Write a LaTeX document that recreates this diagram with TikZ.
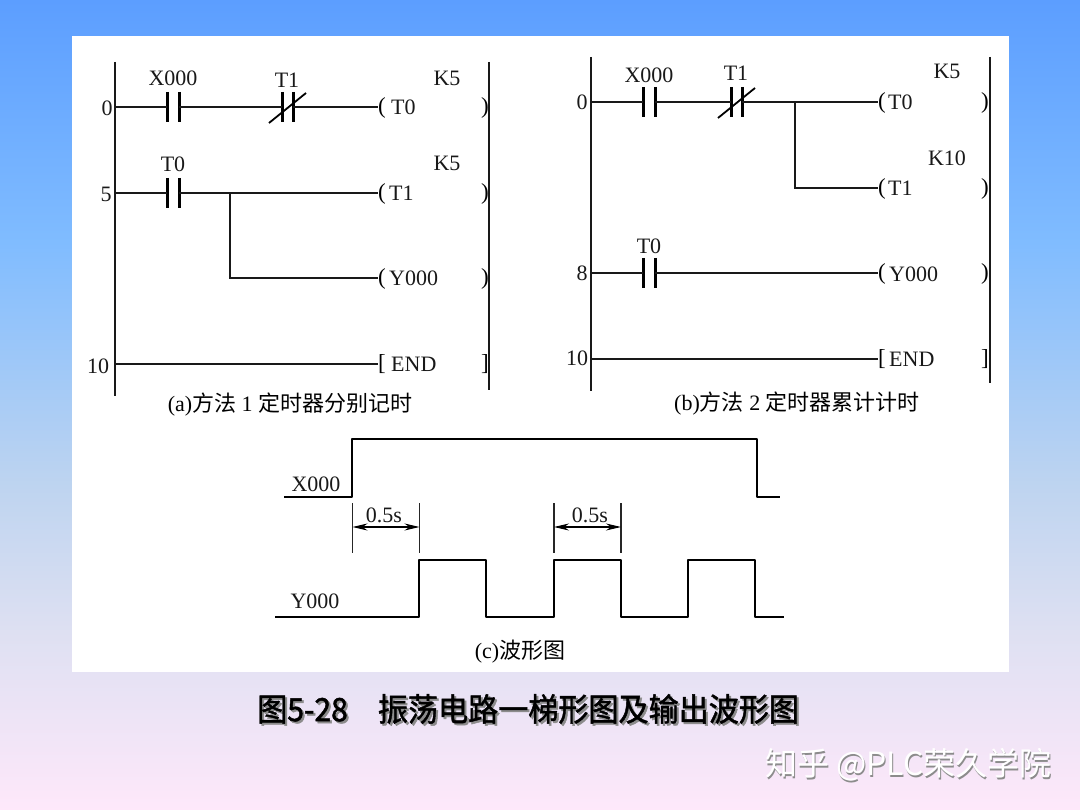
\documentclass[tikz,border=0pt]{standalone}
\usepackage{fontspec}
\usepackage{graphicx}
\setmainfont{Liberation Serif}
\newfontfamily\cjk{Noto Sans CJK SC}
\newfontfamily\cjktitle[FakeBold=1.5]{Noto Sans CJK SC}
\usetikzlibrary{arrows.meta,calc}
\definecolor{bgA}{RGB}{92,158,255}
\definecolor{bgB}{RGB}{128,188,255}
\definecolor{bgC}{RGB}{190,212,240}
\definecolor{bgD}{RGB}{222,224,242}
\definecolor{bgE}{RGB}{254,232,250}
\pgfdeclareverticalshading{bgshade}{100bp}{
 color(0bp)=(bgE); color(25bp)=(bgE); color(36bp)=(bgD); color(45bp)=(bgC);
 color(60bp)=(bgB); color(75bp)=(bgA); color(100bp)=(bgA)}
\tikzset{
 lad/.style={draw=black!90,line width=1.5pt},
 railx/.style={draw=black!90,line width=1.8pt},
 contactbar/.style={draw=black,line width=3pt},
 wave/.style={draw=black,line width=2.8pt,line join=round},
 dimline/.style={draw=black!85,line width=1.2pt},
 dimarrow/.style={draw=black,line width=1.2pt,{Stealth[length=15pt,width=7pt]}-{Stealth[length=15pt,width=7pt]}},
 lbl/.style={font=\fontsize{22}{22}\selectfont,text=black!90,inner sep=0pt},
 captext/.style={font=\fontsize{22}{24}\selectfont,text=black,inner sep=0pt},
 paren/.style={font=\fontsize{23}{23}\selectfont,text=black,inner sep=0pt},
}
% #1 prefix, #2 left bar x, #3 right bar x, #4 rung y
\newcommand{\ncontact}[4]{%
 \coordinate (#1L) at (#2,#4); \coordinate (#1R) at (#3,#4);
 \draw[contactbar] (#2,#4-15) -- (#2,#4+15);
 \draw[contactbar] (#3,#4-15) -- (#3,#4+15);}
\newcommand{\nslash}[4]{%
 \draw[line width=1.8pt,draw=black] (#2-13,#4+16) -- (#3+13,#4-14);}
\newcommand{\titletext}{\scalebox{.94}[1]{图5-28\hspace{32pt}振荡电路一梯形图及输出波形图}}
\begin{document}
\begin{tikzpicture}[x=1pt,y=-1pt]
\useasboundingbox (0,0) rectangle (1080,810);
\shade[shading=bgshade] (0,0) rectangle (1080,810);
\fill[white] (72,36) rectangle (1009,672);

%% ---------- panel (a)
\coordinate (atop) at (115,62); \coordinate (abot) at (115,396);
\coordinate (rtop) at (489,62); \coordinate (rbot) at (489,390);
\draw[railx] (atop) -- (abot);
\draw[railx] (rtop) -- (rbot);
\coordinate (a0) at (115,107); \coordinate (a5) at (115,193); \coordinate (a10) at (115,364);
\ncontact{ax}{167}{179}{107}
\ncontact{at}{282}{293}{107}
\nslash{at}{282}{293}{107}
\ncontact{az}{167}{179}{193}
\node[paren] (apa) at (382,108) {(};
\node[lbl,anchor=west] (at0) at (391,107) {T0};
\node[paren] (apb) at (485,108) {)};
\node[paren] (apc) at (382,194) {(};
\node[lbl,anchor=west] (at1) at (389,193) {T1};
\node[paren] (apd) at (485,194) {)};
\node[paren] (ape) at (382,279) {(};
\node[lbl,anchor=west] (ay) at (389,278) {Y000};
\node[paren] (apf) at (485,279) {)};
\node[paren] (apg) at (382,364) {[};
\node[lbl,anchor=west] (aend) at (391,364) {END};
\node[paren] (aph) at (485,364) {]};
\draw[lad] (a0) -- (axL) (axR) -- (atL) (atR) -- (atR -| apa.west);
\draw[lad] (a5) -- (azL) (azR) -- (azR -| apc.west);
\coordinate (abr) at (230,193);
\coordinate (abe) at (230,278);
\draw[lad] (abr) -- (abe) -- (abe -| ape.west);
\draw[lad] (a10) -- (a10 -| apg.west);
\node[lbl] (n1) at (173,78) {X000};
\node[lbl] (n2) at (287,80) {T1};
\node[lbl] (n3) at (447,78) {K5};
\node[lbl] (n4) at (173,164) {T0};
\node[lbl] (n5) at (447,163) {K5};
\node[lbl] (n6) at (107,108) {0};
\node[lbl] (n7) at (106,194) {5};
\node[lbl] (n8) at (98,366) {10};
\node[captext] (capa) at (290,405) {(a){\cjk 方法} 1 {\cjk 定时器分别记时}};

%% ---------- panel (b)
\coordinate (btop) at (591,57); \coordinate (bbot) at (591,391);
\coordinate (stop) at (990,57); \coordinate (sbot) at (990,383);
\draw[railx] (btop) -- (bbot);
\draw[railx,line width=2.2pt] (stop) -- (sbot);
\coordinate (b0) at (591,102); \coordinate (b8) at (591,273); \coordinate (b10) at (591,359);
\ncontact{bx}{643}{655}{102}
\ncontact{bt}{731}{742}{102}
\nslash{bt}{731}{742}{102}
\ncontact{bz}{643}{655}{273}
\node[paren] (bpa) at (882,103) {(};
\node[lbl,anchor=west] (bt0) at (888,102) {T0};
\node[paren] (bpb) at (985,103) {)};
\node[paren] (bpc) at (882,189) {(};
\node[lbl,anchor=west] (bt1) at (888,188) {T1};
\node[paren] (bpd) at (985,189) {)};
\node[paren] (bpe) at (882,274) {(};
\node[lbl,anchor=west] (by) at (889,274) {Y000};
\node[paren] (bpf) at (985,274) {)};
\node[paren] (bpg) at (882,359) {[};
\node[lbl,anchor=west] (bend) at (889,359) {END};
\node[paren] (bph) at (985,359) {]};
\draw[lad] (b0) -- (bxL) (bxR) -- (btL) (btR) -- (btR -| bpa.west);
\coordinate (bbr) at (795,102);
\coordinate (bbe) at (795,188);
\draw[lad] (bbr) -- (bbe) -- (bbe -| bpc.west);
\draw[lad] (b8) -- (bzL) (bzR) -- (bzR -| bpe.west);
\draw[lad] (b10) -- (b10 -| bpg.west);
\node[lbl] (m1) at (649,75) {X000};
\node[lbl] (m2) at (736,73) {T1};
\node[lbl] (m3) at (947,71) {K5};
\node[lbl] (m4) at (649,246) {T0};
\node[lbl] (m5) at (947,158) {K10};
\node[lbl] (m6) at (582,102) {0};
\node[lbl] (m7) at (582,273) {8};
\node[lbl] (m8) at (577,358) {10};
\node[captext] (capb) at (797,404) {(b){\cjk 方法} 2 {\cjk 定时器累计计时}};

%% ---------- waveforms
\coordinate (xs) at (284,497); \coordinate (xe) at (780,497);
\coordinate (ys) at (275,617); \coordinate (ye) at (784,617);
\draw[wave] (xs) -- (352,497) -- (352,439) -- (757,439) -- (757,497) -- (xe);
\draw[wave] (ys) -- (419,617) -- (419,560) -- (486,560) -- (486,617) -- (554,617)
 -- (554,560) -- (621,560) -- (621,617) -- (688,617) -- (688,560) -- (755,560)
 -- (755,617) -- (ye);
\node[lbl] (w1) at (316,484) {X000};
\node[lbl] (w2) at (315,601) {Y000};
\coordinate (d1) at (352.5,527); \coordinate (d2) at (419.5,527);
\coordinate (d3) at (554,527); \coordinate (d4) at (621,527);
\draw[dimline] (352.5,503) -- (352.5,553) (419.5,503) -- (419.5,553);
\draw[dimline] (554,503) -- (554,553) (621,503) -- (621,553);
\draw[dimarrow] (d1) -- (d2);
\draw[dimarrow] (d3) -- (d4);
\node[lbl] (w3) at (384,515) {0.5s};
\node[lbl] (w4) at (590,515) {0.5s};
\node[captext] (capc) at (520,652) {(c){\cjk 波形图}};

%% ---------- title and watermark
\node[inner sep=0pt,anchor=west,text=black!45,font=\cjktitle\fontsize{32}{32}\selectfont] at (259,711) {\titletext};
\node[inner sep=0pt,anchor=west,text=black,font=\cjktitle\fontsize{32}{32}\selectfont] (title) at (257,709) {\titletext};
\node[inner sep=0pt,anchor=west,text=black!45,font=\cjk\fontsize{32}{32}\selectfont] at (766,767) {知乎 @PLC荣久学院};
\node[inner sep=0pt,anchor=west,text=white,font=\cjk\fontsize{32}{32}\selectfont] (mark) at (765,765) {知乎 @PLC荣久学院};
\end{tikzpicture}
\end{document}
